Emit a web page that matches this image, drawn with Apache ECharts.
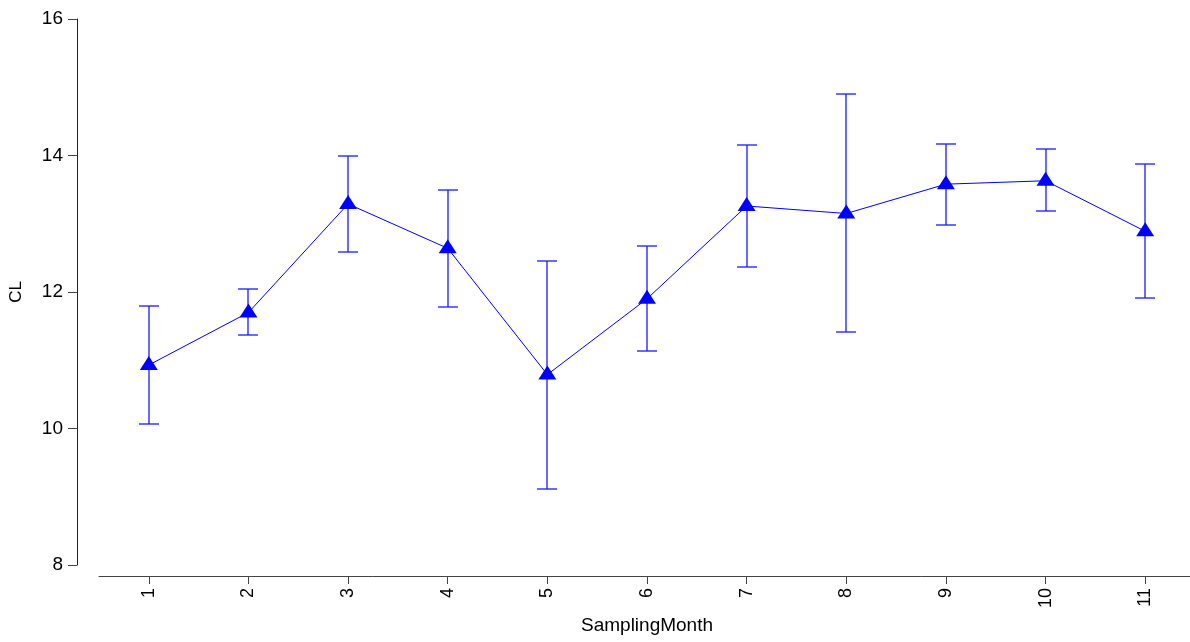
<!DOCTYPE html>
<html>
<head>
<meta charset="utf-8">
<script src="https://cdn.jsdelivr.net/npm/echarts@6/dist/echarts.min.js"></script>
<style>
html,body{margin:0;padding:0;background:#fff;overflow:hidden;}
#chart{width:1200px;height:642px;}
</style>
</head>
<body>
<div id="chart"></div>
<script>
const months = ['1','2','3','4','5','6','7','8','9','10','11'];
const meanCL = [10.93, 11.70, 13.29, 12.64, 10.79, 11.90, 13.26, 13.15, 13.58, 13.63, 12.89];
const upperCL = [11.79, 12.04, 14.00, 13.50, 12.46, 12.68, 14.16, 14.90, 14.17, 14.09, 13.87];
const lowerCL = [10.06, 11.37, 12.58, 11.78, 9.11, 11.13, 12.36, 11.41, 12.98, 13.18, 11.91];
const yTicks = [8, 10, 12, 14, 16];

const FONT = 'Liberation Sans, Arial, sans-serif';
const BLUE = '#0000ff';

const errData = months.map((m, i) => [i, lowerCL[i], upperCL[i]]);

const chart = echarts.init(document.getElementById('chart'), null, {renderer: 'canvas'});
chart.setOption({
  animation: false,
  backgroundColor: '#ffffff',
  grid: {left: 98, right: 5, top: 19, bottom: 77, containLabel: false},
  xAxis: {
    type: 'category',
    data: months,
    boundaryGap: true,
    offset: 11,
    name: 'SamplingMonth',
    nameLocation: 'middle',
    nameGap: 38,
    nameTextStyle: {fontFamily: FONT, fontSize: 19, color: '#000'},
    axisLine: {show: true, lineStyle: {color: '#444', width: 1}},
    axisTick: {show: true, alignWithLabel: true, length: 8, lineStyle: {color: '#444'}},
    axisLabel: {rotate: 90, margin: 12, fontFamily: FONT, fontSize: 18, color: '#000'},
    splitLine: {show: false}
  },
  yAxis: {
    type: 'value',
    min: yTicks[0],
    max: yTicks[yTicks.length - 1],
    interval: 2,
    offset: 22,
    name: 'CL',
    nameLocation: 'middle',
    nameRotate: 90,
    nameGap: 52,
    nameTextStyle: {fontFamily: FONT, fontSize: 17, color: '#000'},
    axisLine: {show: true, lineStyle: {color: '#222', width: 1}},
    axisTick: {show: true, length: 9, lineStyle: {color: '#444'}},
    axisLabel: {margin: 14, fontFamily: FONT, fontSize: 19, color: '#000'},
    splitLine: {show: false}
  },
  series: [
    {
      type: 'custom',
      z: 1,
      data: errData,
      renderItem: function (params, api) {
        const x = api.value(0);
        const lo = api.coord([x, api.value(1)]);
        const hi = api.coord([x, api.value(2)]);
        const cx = Math.round(lo[0]);
        const yl = Math.round(lo[1]);
        const yh = Math.round(hi[1]);
        const hw = 10;
        const style = {stroke: '#1a1aff', lineWidth: 1.3, fill: null};
        return {
          type: 'group',
          children: [
            {type: 'line', shape: {x1: cx, y1: yh, x2: cx, y2: yl}, style: style},
            {type: 'line', shape: {x1: cx - hw, y1: yh, x2: cx + hw, y2: yh}, style: style},
            {type: 'line', shape: {x1: cx - hw, y1: yl, x2: cx + hw, y2: yl}, style: style}
          ]
        };
      }
    },
    {
      type: 'line',
      z: 3,
      data: meanCL,
      symbol: 'triangle',
      symbolSize: [18, 14],
      symbolOffset: [0, -2],
      showAllSymbol: true,
      lineStyle: {color: BLUE, width: 1},
      itemStyle: {color: BLUE, borderWidth: 0}
    }
  ]
});
</script>
</body>
</html>
